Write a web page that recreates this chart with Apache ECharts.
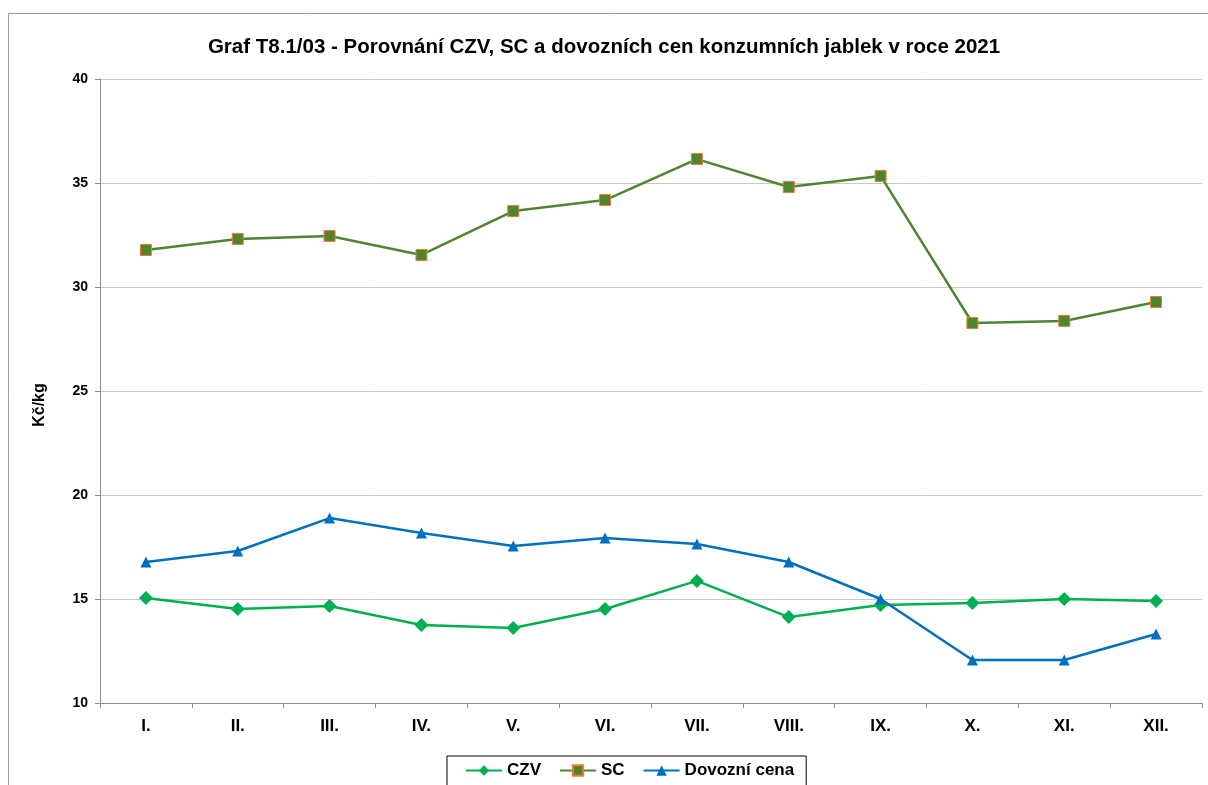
<!DOCTYPE html>
<html>
<head>
<meta charset="utf-8">
<script src="https://cdn.jsdelivr.net/npm/echarts@6/dist/echarts.min.js"></script>
<style>
  html, body { margin: 0; padding: 0; background: #fff; }
  #chart { width: 1208px; height: 785px; }
</style>
</head>
<body>
<div id="chart"></div>
<script>
var months = ['I.', 'II.', 'III.', 'IV.', 'V.', 'VI.', 'VII.', 'VIII.', 'IX.', 'X.', 'XI.', 'XII.'];
var czv = [15.05, 14.52, 14.66, 13.75, 13.61, 14.52, 15.87, 14.13, 14.71, 14.81, 15.0, 14.9];
var sc = [31.78, 32.31, 32.45, 31.54, 33.65, 34.18, 36.15, 34.81, 35.34, 28.27, 28.37, 29.28];
var dovoz = [16.78, 17.31, 18.89, 18.17, 17.55, 17.93, 17.64, 16.78, 15.0, 12.07, 12.07, 13.32];

var chart = echarts.init(document.getElementById('chart'));

var option = {
    animation: false,
    title: {
        text: 'Graf T8.1/03 - Porovnání CZV, SC a dovozních cen konzumních jablek v roce 2021',
        left: 'center',
        top: 32,
        textStyle: { fontFamily: 'Liberation Sans', fontSize: 20.5, fontWeight: 'bold', color: '#000' }
    },
    graphic: [{
        type: 'rect',
        shape: { x: 8.5, y: 13.5, width: 1220, height: 800 },
        style: { fill: 'none', stroke: '#9a9a9a', lineWidth: 1 },
        silent: true
    }],
    grid: { left: 100, right: 6, top: 79, bottom: 82 },
    legend: {
        bottom: -10,
        left: 447,
        itemWidth: 36,
        itemHeight: 13,
        itemGap: 18,
        padding: [6, 12, 16, 18],
        borderColor: '#000',
        borderWidth: 1,
        textStyle: { fontFamily: 'Liberation Sans', fontSize: 17, fontWeight: 'bold', color: '#000' },
        data: ['CZV', 'SC', 'Dovozní cena']
    },
    xAxis: {
        type: 'category',
        data: months,
        boundaryGap: true,
        axisLine: { lineStyle: { color: '#8c8c8c' } },
        axisTick: { show: true, length: 5, lineStyle: { color: '#8c8c8c' } },
        axisLabel: { margin: 15, fontFamily: 'Liberation Sans', fontSize: 17, fontWeight: 'bold', color: '#000' }
    },
    yAxis: {
        type: 'value',
        min: 10,
        max: 40,
        interval: 5,
        name: 'Kč/kg',
        nameLocation: 'middle',
        nameGap: 52,
        nameTextStyle: { fontFamily: 'Liberation Sans', fontSize: 16, fontWeight: 'bold', color: '#000', padding: [0, 0, 0, -28] },
        axisLine: { show: true, lineStyle: { color: '#8c8c8c' } },
        axisTick: { show: true, length: 5, lineStyle: { color: '#8c8c8c' } },
        axisLabel: { margin: 12, fontFamily: 'Liberation Sans', fontSize: 14, fontWeight: 'bold', color: '#000' },
        splitLine: { lineStyle: { color: '#c8c8c8' } }
    },
    series: [
        {
            name: 'CZV',
            type: 'line',
            data: czv,
            symbol: 'diamond',
            symbolSize: 14,
            lineStyle: { color: '#00b050', width: 2.5 },
            itemStyle: { color: '#00b050' }
        },
        {
            name: 'SC',
            type: 'line',
            data: sc,
            symbol: 'rect',
            symbolSize: 11,
            lineStyle: { color: '#4e8531', width: 2.5 },
            itemStyle: { color: '#4e8531', borderColor: '#ed7d31', borderWidth: 1 }
        },
        {
            name: 'Dovozní cena',
            type: 'line',
            data: dovoz,
            symbol: 'triangle',
            symbolSize: 11,
            lineStyle: { color: '#0070c0', width: 2.5 },
            itemStyle: { color: '#0070c0' }
        }
    ]
};

chart.setOption(option);
</script>
</body>
</html>
